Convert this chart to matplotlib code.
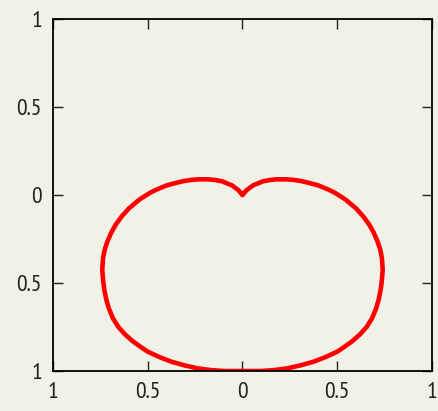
import matplotlib
matplotlib.use("Agg")
import matplotlib.pyplot as plt
from matplotlib import font_manager

# curve, right half from the cusp going clockwise
x_right = [0.0, 0.021, 0.056, 0.109, 0.143, 0.179, 0.232, 0.268, 0.306,
           0.350, 0.399, 0.455, 0.487, 0.544, 0.599, 0.636, 0.670, 0.693,
           0.713, 0.727, 0.736, 0.740, 0.735, 0.729, 0.718, 0.705, 0.684,
           0.655, 0.620, 0.580, 0.535, 0.500, 0.440, 0.376, 0.306, 0.236,
           0.165, 0.095, 0.045, 0.0]
y_right = [0.0, 0.027, 0.055, 0.078, 0.085, 0.089, 0.089, 0.086, 0.080,
           0.069, 0.055, 0.030, 0.013, -0.026, -0.076, -0.120, -0.170,
           -0.215, -0.265, -0.310, -0.360, -0.426, -0.490, -0.540, -0.597,
           -0.645, -0.700, -0.750, -0.792, -0.830, -0.865, -0.890, -0.920,
           -0.947, -0.968, -0.985, -0.995, -1.0, -1.0, -1.0]

ticks = [-1, -0.5, 0, 0.5, 1]
tick_labels = ["1", "0.5", "0", "0.5", "1"]

bg = "#f2f1e7"

names = {f.name for f in font_manager.fontManager.ttflist}
fam = "Liberation Sans"
for cand in ["Liberation Sans Narrow", "Arial Narrow", "PT Sans Narrow",
             "Archivo Narrow", "Roboto Condensed", "Open Sans Condensed"]:
    if cand in names:
        fam = cand
        break

# close the curve: right half, then mirrored left half back to the cusp
xs = x_right + [-v for v in reversed(x_right)]
ys = y_right + list(reversed(y_right))

fig = plt.figure(figsize=(4.39, 4.11), dpi=100, facecolor=bg)
ax = fig.add_axes([0.1207, 0.0973, 0.8633, 0.8565])
ax.set_facecolor(bg)

ax.plot(xs, ys, color="#ff0000", lw=3.3, solid_joinstyle="round",
        solid_capstyle="round")

ax.set_xlim(-1, 1)
ax.set_ylim(-1, 1)
ax.set_xticks(ticks)
ax.set_yticks(ticks)
ax.set_xticklabels(tick_labels)
ax.set_yticklabels(tick_labels)
for s in ax.spines.values():
    s.set_linewidth(1.3)
    s.set_color("black")
ax.tick_params(direction="in", length=7, width=1, top=True, right=True,
               labelsize=17, color="#222222")
ax.tick_params(axis="x", pad=8)
ax.tick_params(axis="y", pad=8)
for lab in ax.get_xticklabels() + ax.get_yticklabels():
    lab.set_family(fam)
    lab.set_color("#222222")

fig.savefig("out.png", dpi=100, facecolor=bg)
